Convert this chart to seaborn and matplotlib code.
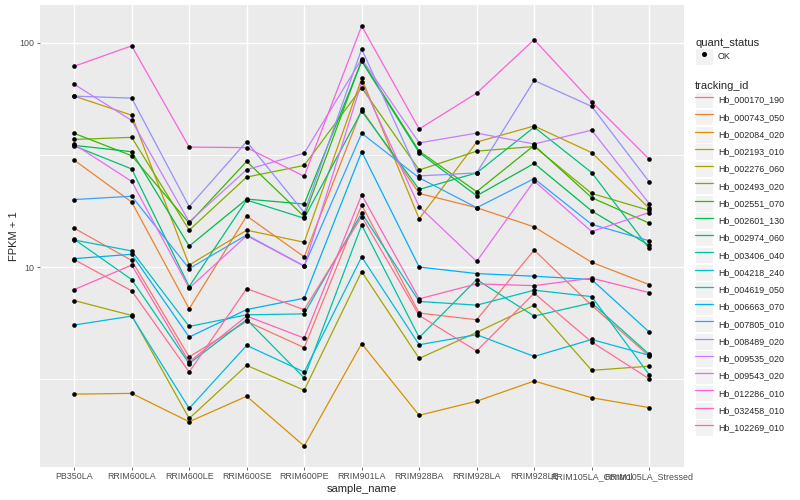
import numpy as np
import pandas as pd
import seaborn as sns
import matplotlib.pyplot as plt
import matplotlib.ticker as mticker
from matplotlib.lines import Line2D
from matplotlib.patches import Rectangle
from matplotlib.legend_handler import HandlerTuple

## values (FPKM + 1, log axis)
samples = ['PB350LA', 'RRIM600LA', 'RRIM600LE', 'RRIM600SE', 'RRIM600PE', 'RRIM901LA',
           'RRIM928BA', 'RRIM928LA', 'RRIM928LE', 'RRIM105LA_Control', 'RRIM105LA_Stressed']

tracking_ids = ['Hb_000170_190', 'Hb_000743_050', 'Hb_002084_020', 'Hb_002193_010', 'Hb_002276_060',
                'Hb_002493_020', 'Hb_002551_070', 'Hb_002601_130', 'Hb_002974_060', 'Hb_003406_040',
                'Hb_004218_240', 'Hb_004619_050', 'Hb_006663_070', 'Hb_007805_010', 'Hb_008489_020',
                'Hb_009535_020', 'Hb_009543_020', 'Hb_012286_010', 'Hb_032458_010', 'Hb_102269_010']

# ggplot hue palette for 20 levels
hue_colors = ['#F8766D', '#EA8331', '#D89000', '#C09B00', '#A3A500', '#7CAE00', '#39B600', '#00BB4E',
              '#00BF7D', '#00C1A3', '#00BFC4', '#00BAE0', '#00B0F6', '#35A2FF', '#9590FF', '#C77CFF',
              '#E76BF3', '#FA62DB', '#FF62BC', '#FF6C91']

hb_000170_190 = [14.9, 10.7, 3.97, 5.72, 4.37, 18.9, 6.23, 5.82, 11.9, 6.74, 4.01]
hb_000743_050 = [30.0, 19.5, 6.51, 16.9, 11.1, 50.5, 21.3, 18.4, 15.1, 10.5, 8.35]
hb_002084_020 = [2.71, 2.73, 2.04, 2.65, 1.59, 4.55, 2.18, 2.52, 3.10, 2.61, 2.36]
hb_002193_010 = [57.9, 47.6, 10.2, 14.6, 12.9, 69.4, 16.4, 36.1, 42.6, 32.4, 18.3]
hb_002276_060 = [7.09, 6.08, 2.11, 3.64, 2.82, 9.54, 3.91, 5.11, 6.76, 3.46, 3.61]
hb_002493_020 = [37.1, 37.9, 14.6, 25.2, 28.4, 63.1, 27.1, 32.9, 34.5, 21.3, 17.9]
hb_002551_070 = [39.5, 31.4, 15.7, 29.6, 16.8, 83.7, 32.9, 21.7, 34.9, 20.4, 15.7]
hb_002601_130 = [34.9, 32.7, 12.4, 20.1, 19.1, 82.8, 32.4, 20.8, 29.0, 17.8, 12.5]
hb_002974_060 = [34.7, 27.4, 8.18, 19.9, 16.5, 49.6, 22.2, 26.3, 42.1, 26.4, 12.1]
hb_003406_040 = [13.3, 8.79, 3.71, 5.83, 3.20, 15.4, 4.85, 8.79, 6.04, 6.92, 4.08]
hb_004218_240 = [13.2, 11.8, 5.43, 6.12, 6.18, 17.4, 7.02, 6.76, 7.88, 7.38, 3.31]
hb_004619_050 = [5.51, 6.04, 2.34, 4.47, 3.40, 11.1, 4.50, 4.99, 3.99, 4.75, 4.04]
hb_006663_070 = [10.9, 11.4, 4.87, 6.46, 7.26, 32.7, 10.0, 9.35, 9.10, 8.79, 5.13]
hb_007805_010 = [20.0, 20.7, 9.84, 13.9, 10.1, 39.5, 25.0, 18.4, 24.8, 15.5, 13.1]
hb_008489_020 = [57.9, 56.7, 18.6, 36.3, 17.5, 94.0, 25.5, 26.3, 68.0, 52.1, 24.0]
hb_009535_020 = [65.4, 45.1, 15.9, 27.2, 32.2, 84.9, 35.8, 39.6, 35.4, 40.8, 19.2]
hb_009543_020 = [35.3, 24.1, 8.05, 13.8, 10.1, 66.8, 18.6, 10.6, 24.2, 14.4, 17.5]
hb_012286_010 = [78.7, 97.0, 34.3, 34.1, 25.4, 119.0, 41.3, 59.7, 103.4, 54.6, 30.3]
hb_032458_010 = [7.93, 10.2, 3.77, 6.04, 4.82, 21.0, 7.21, 8.41, 8.26, 8.92, 7.69]
hb_102269_010 = [10.8, 7.83, 3.40, 8.01, 6.45, 16.8, 6.08, 4.22, 7.64, 4.63, 3.17]

series = [hb_000170_190, hb_000743_050, hb_002084_020, hb_002193_010, hb_002276_060,
          hb_002493_020, hb_002551_070, hb_002601_130, hb_002974_060, hb_003406_040,
          hb_004218_240, hb_004619_050, hb_006663_070, hb_007805_010, hb_008489_020,
          hb_009535_020, hb_009543_020, hb_012286_010, hb_032458_010, hb_102269_010]

rows = []
for tid, vals in zip(tracking_ids, series):
    for s, v in zip(samples, vals):
        rows.append({'tracking_id': tid, 'sample_name': s, 'fpkm': v, 'quant_status': 'OK'})
df = pd.DataFrame(rows)

sns.set_style('darkgrid', {'axes.facecolor': '#EBEBEB', 'grid.color': 'white'})
plt.rcParams['font.family'] = ['Liberation Sans', 'DejaVu Sans']

fig = plt.figure(figsize=(8, 5), dpi=100)
ax = fig.add_axes([0.0496, 0.066, 0.805, 0.924])
ax.set_yscale('log')

sns.lineplot(data=df, x='sample_name', y='fpkm', hue='tracking_id', hue_order=tracking_ids,
             palette=hue_colors, sort=False, estimator=None, lw=0.9, legend=False, ax=ax)
sns.scatterplot(data=df, x='sample_name', y='fpkm', color='black', s=11, linewidth=0,
                legend=False, ax=ax, zorder=3)

ax.set_xlim(-0.6, len(samples) - 0.4)
lo, hi = np.log10(df['fpkm'].min()), np.log10(df['fpkm'].max())
pad = 0.05 * (hi - lo)
ax.set_ylim(10 ** (lo - pad), 10 ** (hi + pad))

ax.yaxis.set_major_locator(mticker.FixedLocator([1, 10, 100, 1000]))
ax.yaxis.set_minor_locator(mticker.FixedLocator([10 ** 0.5, 10 ** 1.5, 10 ** 2.5]))
ax.yaxis.set_major_formatter(mticker.FuncFormatter(lambda v, p: f'{v:g}'))
ax.yaxis.set_minor_formatter(mticker.NullFormatter())

ax.grid(False)
ax.grid(which='major', color='white', lw=1.05)
ax.grid(which='minor', axis='y', color='white', lw=0.55)
ax.set_axisbelow(True)
for sp in ax.spines.values():
    sp.set_visible(False)

ax.tick_params(which='major', length=2.4, width=0.5, color='#333333', labelcolor='#4D4D4D',
               labelsize=6.4, pad=1.5, bottom=True, left=True)
ax.tick_params(which='minor', length=0)
ax.set_xlabel('sample_name', fontsize=8, labelpad=1.5)
ax.set_ylabel('FPKM + 1', fontsize=8, labelpad=0.5)

# legends, ggplot style (grey key boxes)
def key_box():
    return Rectangle((0, 0), 1, 1, facecolor='#F2F2F2', edgecolor='white', lw=0.8)

leg_kw = dict(loc='upper left', frameon=False, alignment='left', fontsize=6.4, title_fontsize=8,
              handlelength=1.95, handleheight=2.5, labelspacing=0.07, borderpad=0, borderaxespad=0,
              handletextpad=0.6, handler_map={tuple: HandlerTuple(ndivide=1, pad=0)})

ok_handle = (key_box(), Line2D([], [], marker='o', ls='none', color='black', markersize=2.6))
leg1 = fig.legend([ok_handle], ['OK'], title='quant_status', bbox_to_anchor=(0.869, 0.925), **leg_kw)

line_handles = [(key_box(), Line2D([], [], color=c, lw=0.9)) for c in hue_colors]
leg2 = fig.legend(line_handles, tracking_ids, title='tracking_id', bbox_to_anchor=(0.869, 0.838), **leg_kw)

fig.savefig('out.png', dpi=100)
